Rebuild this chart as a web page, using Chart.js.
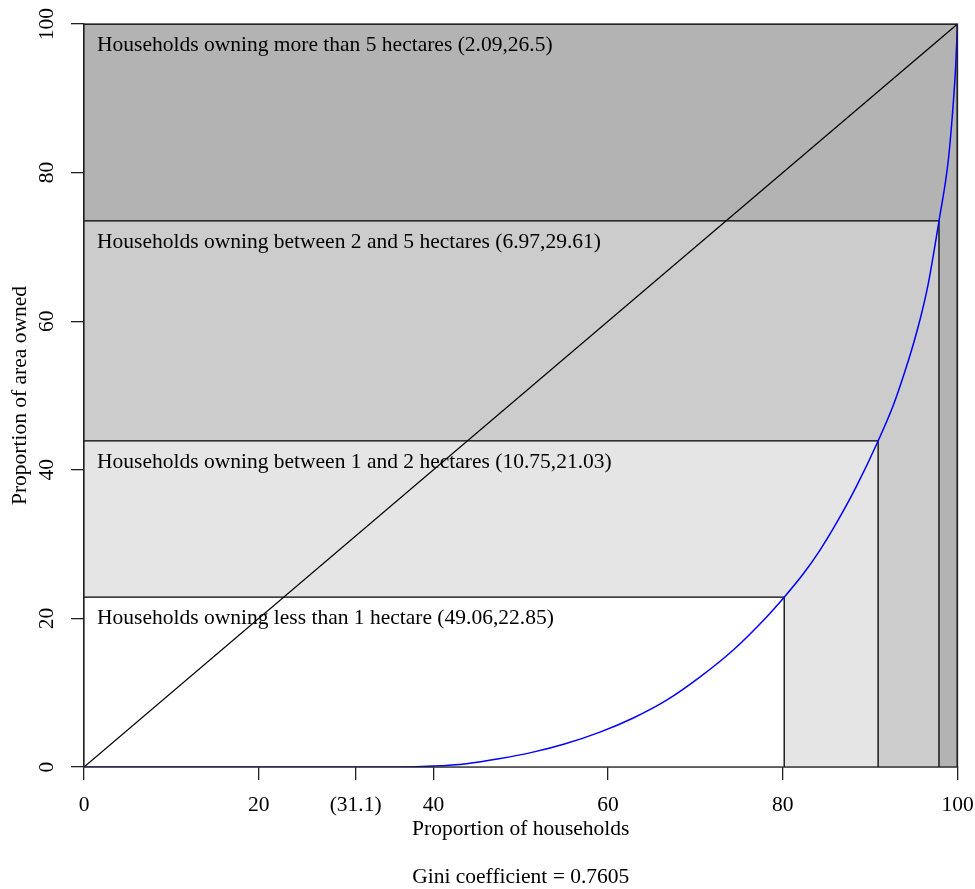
<!DOCTYPE html>
<html>
<head>
<meta charset="utf-8">
<script src="https://cdn.jsdelivr.net/npm/chart.js@4/dist/chart.umd.min.js"></script>
<style>
html,body{margin:0;padding:0;background:#ffffff;}
canvas{display:block;}
</style>
</head>
<body>
<canvas id="c" width="975" height="889"></canvas>
<script>
// ---------- data ----------
const landlessShare = 31.1;
const classNames = [
  'Households owning less than 1 hectare',
  'Households owning between 1 and 2 hectares',
  'Households owning between 2 and 5 hectares',
  'Households owning more than 5 hectares'
];
const householdShares = [49.06, 10.75, 6.97, 2.09];
const areaShares = [22.85, 21.03, 29.61, 26.5];
const xTickValues = [0, 20, 31.1, 40, 60, 80, 100];
const yTickValues = [0, 20, 40, 60, 80, 100];
const lorenzX = [0, 31.1, 36, 40, 43.8, 47.5, 51.4, 55, 59.07, 62.88, 66.7, 70.5, 74.33, 78.15, 80.16, 82.35, 84.26, 86.15, 88.4, 90.91, 92.65, 93.8, 94.94, 95.9, 96.66, 97.88, 98.95, 99.52, 99.8, 100];
const lorenzY = [0, 0, 0, 0.12, 0.45, 1.1, 2.0, 3.1, 4.7, 6.6, 9.0, 12.1, 15.75, 20.2, 22.85, 26.0, 29.2, 32.85, 37.7, 43.88, 48.7, 52.6, 56.9, 61.1, 65.1, 73.49, 81.7, 89.4, 94.5, 100];
const equalityX = [0, 100];
const equalityY = [0, 100];
const axisTitleX = 'Proportion of households';
const axisTitleY = 'Proportion of area owned';
const giniText = 'Gini coefficient = 0.7605';

// ---------- derived cumulative class boundaries ----------
const cumX = [], cumY = [];
(function(){
  let sx = landlessShare, sy = 0;
  householdShares.forEach((h, i) => {
    sx += h; sy += areaShares[i];
    cumX.push(Math.round(sx * 100) / 100);
    cumY.push(Math.round(sy * 100) / 100);
  });
})();

const classFills = ['#ffffff', '#e5e5e5', '#cccccc', '#b3b3b3'];
const FONT = '"Liberation Serif", "Times New Roman", serif';
const font = {family: FONT, size: 21.5, weight: 'normal', lineHeight: 1.2};
const titleFont = {family: FONT, size: 21.5, weight: 'normal', lineHeight: 24 / 21.5};

const datasets = [];
// Lorenz curve (on top)
datasets.push({
  label: 'lorenz',
  data: lorenzX.map((x, i) => ({x: x, y: lorenzY[i]})),
  borderColor: '#0000ff', borderWidth: 1.5, pointRadius: 0, fill: false,
  cubicInterpolationMode: 'monotone', order: 1
});
// line of equality
datasets.push({
  label: 'equality',
  data: equalityX.map((x, i) => ({x: x, y: equalityY[i]})),
  borderColor: '#000000', borderWidth: 1.3, pointRadius: 0, fill: false, order: 2
});
// class rectangles (largest drawn first)
const rectIndex = [];
for (let i = 0; i < cumX.length; i++) {
  rectIndex.push(datasets.length);
  datasets.push({
    label: 'class' + i,
    data: [{x: 0, y: cumY[i]}, {x: cumX[i], y: cumY[i]}, {x: cumX[i], y: 0}],
    borderColor: '#000000', borderWidth: 1.3, pointRadius: 0,
    backgroundColor: classFills[i], fill: 'origin', order: 10 + i
  });
}

const labelPlugin = {
  id: 'classLabels',
  afterDatasetDraw(chart, args) {
    if (args.index !== rectIndex[0]) return;
    const {ctx, scales: {x, y}} = chart;
    ctx.save();
    ctx.font = '21.5px ' + FONT;
    ctx.fillStyle = '#000';
    ctx.textAlign = 'left';
    ctx.textBaseline = 'middle';
    classNames.forEach((n, i) => {
      const px = x.getPixelForValue(0) + 13;
      const py = y.getPixelForValue(cumY[i]) + 21;
      ctx.fillText(n + ' (' + householdShares[i] + ',' + areaShares[i] + ')', px, py);
    });
    ctx.restore();
  }
};

const boxPlugin = {
  id: 'plotBox',
  afterDatasetsDraw(chart) {
    const {ctx, chartArea: a} = chart;
    ctx.save();
    ctx.strokeStyle = '#222';
    ctx.lineWidth = 1.3;
    ctx.strokeRect(a.left, a.top, a.right - a.left, a.bottom - a.top);
    ctx.restore();
  }
};

new Chart(document.getElementById('c'), {
  type: 'line',
  data: {datasets: datasets},
  plugins: [labelPlugin, boxPlugin],
  options: {
    responsive: false,
    animation: false,
    devicePixelRatio: 1,
    parsing: false,
    layout: {padding: {left: 0, right: 17.5, top: 24, bottom: 0}},
    plugins: {
      legend: {display: false},
      tooltip: {enabled: false}
    },
    scales: {
      x: {
        type: 'linear', min: 0, max: 100,
        afterBuildTicks: (a) => { a.ticks = xTickValues.map(v => ({value: v})); },
        ticks: {
          callback: (v) => (v === landlessShare ? '(' + v + ')' : String(v)),
          font: font, color: '#000', padding: 12, maxRotation: 0, minRotation: 0, autoSkip: false
        },
        grid: {drawOnChartArea: false, drawTicks: true, tickLength: 13, color: '#222', lineWidth: 1.3},
        border: {display: true, color: '#222', width: 1.3},
        title: {display: true, text: [axisTitleX, '', giniText], color: '#000', font: titleFont, padding: {top: 0, bottom: 0}},
        afterFit: (s) => { s.height = 122; s.paddingLeft = 0; s.paddingRight = 0; }
      },
      y: {
        type: 'linear', min: 0, max: 100,
        afterBuildTicks: (a) => { a.ticks = yTickValues.map(v => ({value: v})); },
        ticks: {
          font: font, color: '#000', padding: 8, minRotation: 90, maxRotation: 90, crossAlign: 'center', autoSkip: false
        },
        grid: {drawOnChartArea: false, drawTicks: true, tickLength: 13, color: '#222', lineWidth: 1.3},
        border: {display: true, color: '#222', width: 1.3},
        title: {display: true, text: axisTitleY, color: '#000', font: font, padding: {top: 7.1, bottom: 0}},
        afterFit: (s) => { s.width = 84; s.paddingTop = 0; s.paddingBottom = 0; }
      }
    }
  }
});
</script>
</body>
</html>
